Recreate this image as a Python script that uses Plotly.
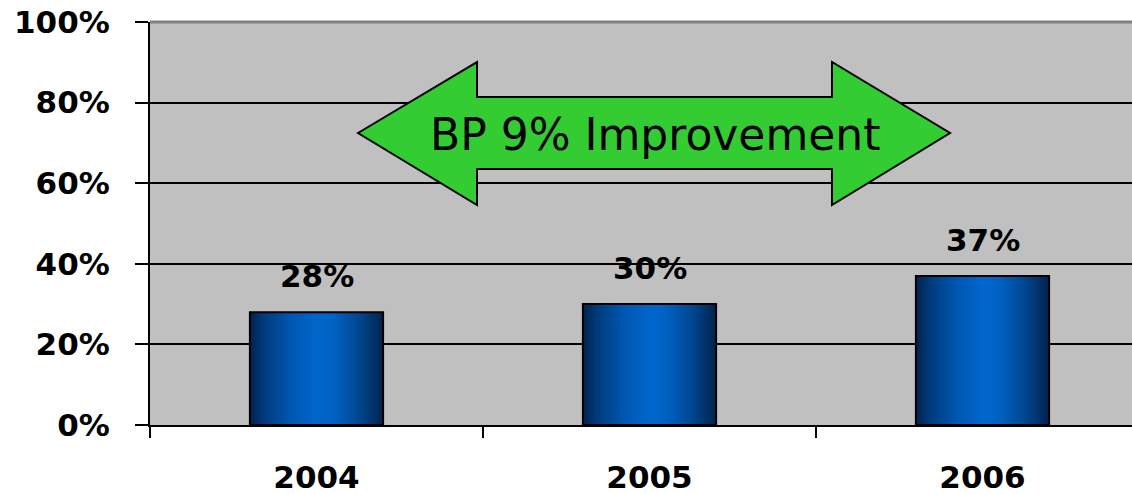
import plotly.graph_objects as go

years = ["2004", "2005", "2006"]
values = [28, 30, 37]          # percent
y_ticks = [0, 20, 40, 60, 80, 100]
arrow_text = "BP 9% Improvement"

BAR_HALF = 0.2
W, H = 1132, 494
L, R, T, B = 150, 0, 22, 69


def px(x, y):
    """pixel position -> paper coords"""
    pw = W - L - R
    ph = H - T - B
    return (x - L) / pw, (H - B - y) / ph


fig = go.Figure()

# bars drawn as filled polygons so they can carry a horizontal gradient
for i, v in enumerate(values):
    fig.add_trace(go.Scatter(
        x=[i - BAR_HALF, i + BAR_HALF, i + BAR_HALF, i - BAR_HALF, i - BAR_HALF],
        y=[0, 0, v, v, 0],
        mode="lines",
        fill="toself",
        fillgradient=dict(
            type="horizontal",
            colorscale=[[0, "#00224c"], [0.1, "#003a7a"], [0.3, "#0056ae"],
                        [0.5, "#0066cc"], [0.62, "#0062c4"], [0.8, "#004a96"],
                        [0.92, "#00336a"], [1, "#00224c"]],
        ),
        line=dict(color="black", width=2),
        hoverinfo="skip",
        showlegend=False,
    ))
    fig.add_annotation(
        x=i, y=v, text=f"{v}%", showarrow=False,
        yanchor="bottom", yshift=16,
        font=dict(family="DejaVu Sans", size=31, color="black", weight="bold"),
    )

# double-headed green arrow
pts = [(358, 133), (477, 62), (477, 97), (832, 97), (832, 62), (950, 133),
       (832, 205), (832, 169), (477, 169), (477, 205)]
path = "M " + " L ".join(f"{px(a, b)[0]:.4f},{px(a, b)[1]:.4f}" for a, b in pts) + " Z"
fig.add_shape(type="path", path=path, xref="paper", yref="paper",
              fillcolor="#33cc33", line=dict(color="black", width=2))
tx, ty = px(655, 134)
fig.add_annotation(x=tx, y=ty, xref="paper", yref="paper", text=arrow_text,
                   showarrow=False, xanchor="center", yanchor="middle",
                   font=dict(family="DejaVu Sans", size=44, color="black"))

# grey top edge of plot area
fig.add_shape(type="line", xref="paper", yref="paper", x0=0, x1=1, y0=1, y1=1,
              line=dict(color="#808080", width=3))

bold = dict(family="DejaVu Sans", size=31, color="black", weight="bold")

fig.update_layout(
    width=W, height=H,
    margin=dict(l=L, r=R, t=T, b=B, autoexpand=False),
    paper_bgcolor="white",
    plot_bgcolor="#c0c0c0",
    showlegend=False,
    xaxis=dict(
        range=[-0.5, -0.5 + (W - L - R) / 333],
        tickvals=[0, 1, 2], ticktext=years,
        ticks="", showgrid=False, zeroline=False, automargin=False,
        showline=True, linecolor="black", linewidth=2,
        tickfont=bold, ticklabelstandoff=24,
        minor=dict(tickvals=[-0.5, 0.5, 1.5], ticks="outside", ticklen=11,
                   tickwidth=2, tickcolor="black", showgrid=False),
    ),
    yaxis=dict(
        range=[0, 100], tickvals=y_ticks,
        ticktext=[f"{t}%" for t in y_ticks],
        showgrid=True, gridcolor="black", gridwidth=2, zeroline=False,
        automargin=False,
        showline=True, linecolor="black", linewidth=2,
        ticks="outside", ticklen=13, tickwidth=2, tickcolor="black",
        tickfont=bold, ticklabelstandoff=19,
    ),
)

fig.write_html("out.html", config={"displayModeBar": False},
               post_script="document.body.style.margin='0';")
